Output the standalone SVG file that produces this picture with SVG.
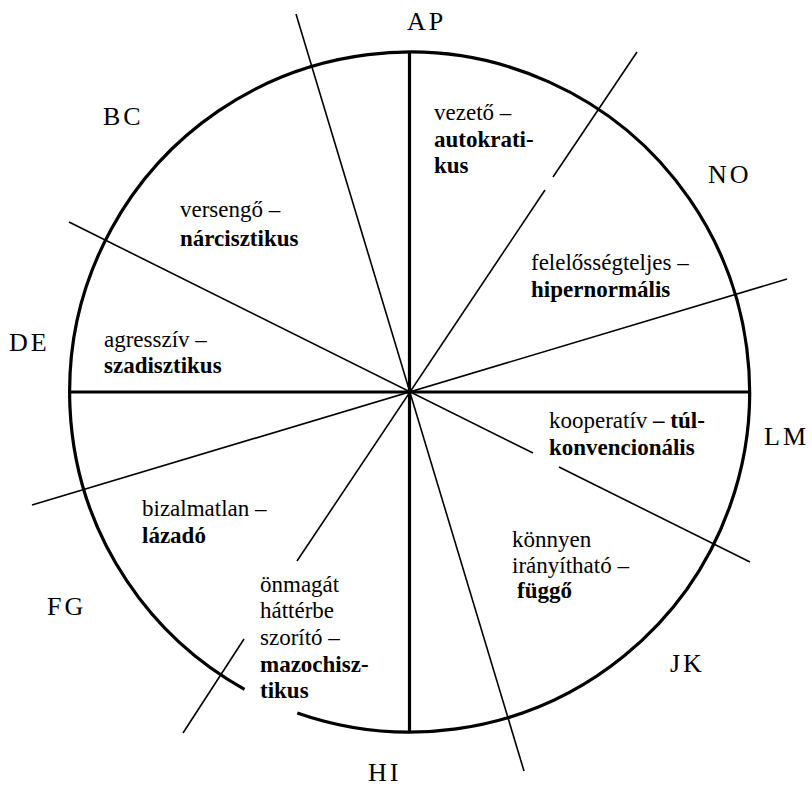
<svg xmlns="http://www.w3.org/2000/svg" width="812" height="788" viewBox="0 0 812 788">
<style>
.bg{fill:#fff}
.circ{fill:none;stroke:#000;stroke-width:3.2}
.axis{stroke:#000;stroke-width:3.2;fill:none}
.div{stroke:#000;stroke-width:1.6;fill:none}
text{font-family:'Liberation Serif','Times New Roman',serif;fill:#000}
.lab{font-size:26px;letter-spacing:3px}
.t{font-size:23px}
.b{font-weight:bold}
</style>
<rect class="bg" x="0" y="0" width="812" height="788"/>
<g id="connectors">
<path id="circle" class="circ" d="M244.5 689.3 A340 340 0 1 1 297.3 713.0"/>
<line class="axis" x1="409.5" y1="52" x2="409.5" y2="732"/>
<line class="axis" x1="69.5" y1="392" x2="749.5" y2="392"/>
<line class="div" x1="296" y1="14" x2="524" y2="771"/>
<line class="div" x1="637" y1="52" x2="553" y2="177"/>
<line class="div" x1="545" y1="190" x2="297" y2="561"/>
<line class="div" x1="244" y1="639" x2="183" y2="733"/>
<line class="div" x1="69" y1="222" x2="533" y2="453"/>
<line class="div" x1="559" y1="467" x2="750" y2="562"/>
<line class="div" x1="32" y1="505" x2="787" y2="279"/>
</g>
<g id="labels">
<text class="lab" x="407" y="30">AP</text>
<text class="lab" x="103" y="125">BC</text>
<text class="lab" x="708" y="183">NO</text>
<text class="lab" x="9" y="351">DE</text>
<text class="lab" x="764" y="445">LM</text>
<text class="lab" x="47" y="615">FG</text>
<text class="lab" x="670" y="672">JK</text>
<text class="lab" x="368" y="781">HI</text>
</g>
<g id="sector-AP">
<text class="t" x="434" y="120">vezető –</text>
<text class="t b" x="434" y="147">autokrati-</text>
<text class="t b" x="434" y="173">kus</text>
</g>
<g id="sector-BC">
<text class="t" x="180" y="217">versengő –</text>
<text class="t b" x="180" y="246">nárcisztikus</text>
</g>
<g id="sector-DE">
<text class="t" x="104" y="347">agresszív –</text>
<text class="t b" x="104" y="373">szadisztikus</text>
</g>
<g id="sector-NO">
<text class="t" x="531" y="270">felelősségteljes –</text>
<text class="t b" x="531" y="297">hipernormális</text>
</g>
<g id="sector-LM">
<text class="t" x="549" y="428">kooperatív <tspan class="b">– túl-</tspan></text>
<text class="t b" x="549" y="455">konvencionális</text>
</g>
<g id="sector-JK">
<text class="t" x="512" y="547">könnyen</text>
<text class="t" x="512" y="573">irányítható –</text>
<text class="t b" x="517" y="598">függő</text>
</g>
<g id="sector-FG">
<text class="t" x="142" y="516">bizalmatlan –</text>
<text class="t b" x="142" y="543">lázadó</text>
</g>
<g id="sector-HI">
<text class="t" x="260" y="592">önmagát</text>
<text class="t" x="260" y="618">háttérbe</text>
<text class="t" x="260" y="645">szorító –</text>
<text class="t b" x="260" y="672">mazochisz-</text>
<text class="t b" x="260" y="698">tikus</text>
</g>
</svg>
